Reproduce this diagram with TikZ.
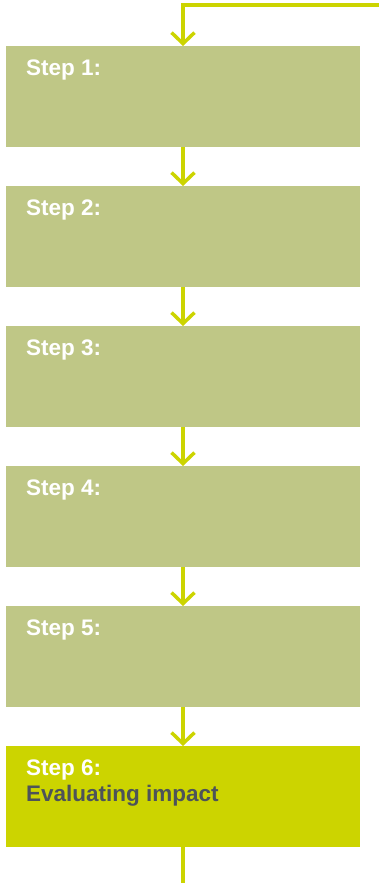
\documentclass[tikz,border=0pt]{standalone}
\usepackage{fontspec}
\setmainfont{Liberation Sans}
\usetikzlibrary{arrows.meta,calc}
\definecolor{stepgreen}{RGB}{191,199,134}
\definecolor{flowyellow}{RGB}{204,212,0}
\definecolor{textgrey}{RGB}{77,83,89}

\tikzset{
    stepbox/.style={fill=stepgreen,draw=none,minimum width=354pt,minimum height=101pt,inner sep=0pt,outer sep=0pt},
    flow/.style={flowyellow,line width=3.5pt,-{Straight Barb[length=11pt,width=23pt,line width=3.5pt]}},
    steplabel/.style={anchor=base west,inner sep=0pt,text=white,font=\bfseries\fontsize{22.5}{26}\selectfont}
}

\begin{document}
\begin{tikzpicture}[x=1pt,y=-1pt]
    \useasboundingbox (0,0) rectangle (379,883);

    % Step boxes
    \foreach \i in {1,...,6}
        \node[stepbox] (s\i) at (183,{96.5+140*(\i-1)}) {};
    \node[stepbox,fill=flowyellow] at (s6) {};

    % Labels
    \foreach \i in {1,...,6}
        \node[steplabel] (l\i) at ($(s\i.north west)+(20,29)$) {Step \i:};
    \node[steplabel,text=textgrey] (title) at ($(l6.base west)+(0,26)$) {Evaluating impact};

    % Flow arrows
    \coordinate (in) at (379,5);
    \coordinate (out) at (183,883);
    \draw[flow] (in) -| (s1.north);
    \foreach \i [evaluate=\i as \j using int(\i+1)] in {1,...,5}
        \draw[flow] (s\i.south) -- (s\j.north);
    \draw[flowyellow,line width=3.5pt] (s6.south) -- (out);
\end{tikzpicture}
\end{document}
